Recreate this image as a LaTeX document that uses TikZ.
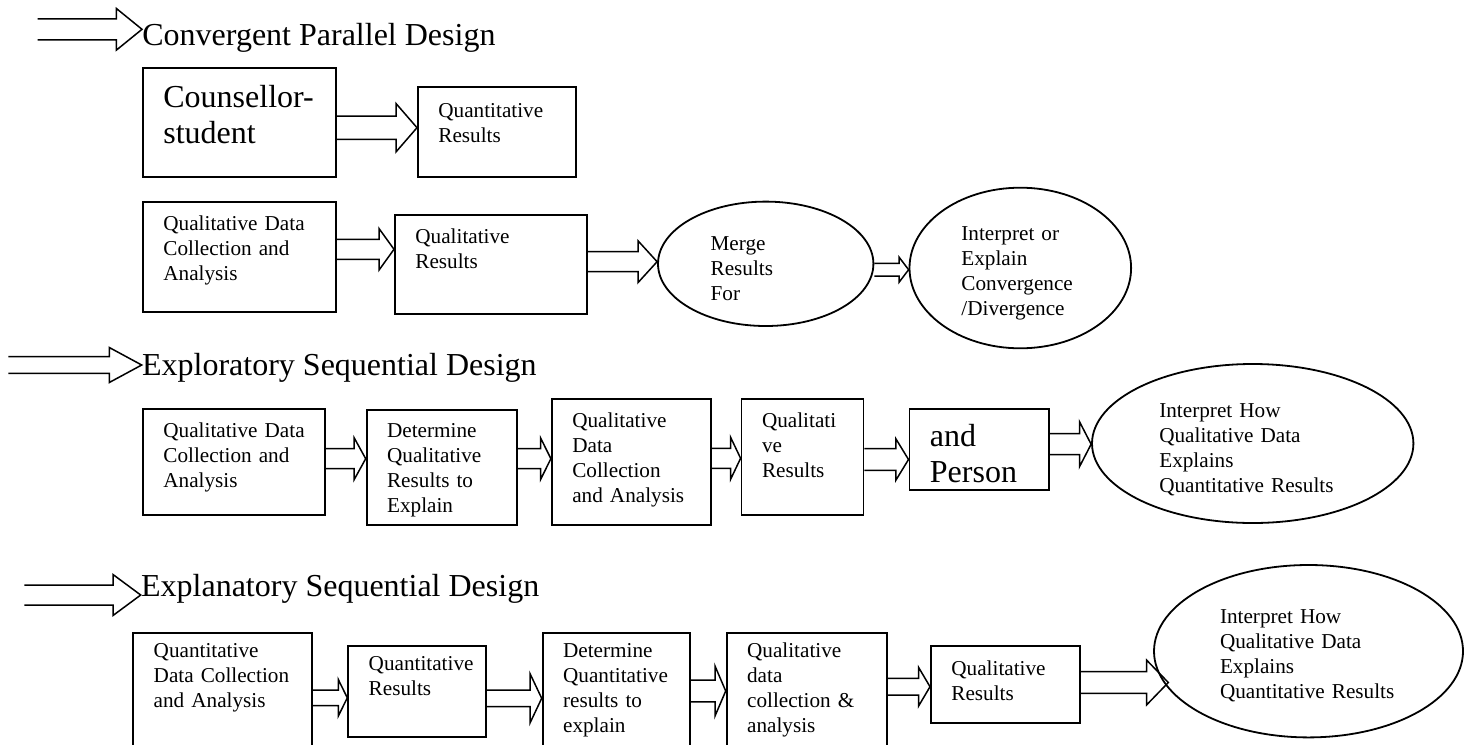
\documentclass[tikz,border=0pt]{standalone}
\usepackage{fontspec}
\setmainfont{Liberation Serif}
\usetikzlibrary{calc,shapes.geometric}

\newcommand{\hollowarrow}[6]{%
  \draw[harrow] (#1 |- 0,{#3-#4})
    -- ($(#2 |- 0,#3)+(-#6,-#4)$) -- ($(#2 |- 0,#3)+(-#6,-#5)$)
    -- (#2 |- 0,#3)
    -- ($(#2 |- 0,#3)+(-#6,#5)$) -- ($(#2 |- 0,#3)+(-#6,#4)$)
    -- (#1 |- 0,{#3+#4});}

\begin{document}
\begin{tikzpicture}[x=0.5pt, y=-0.5pt,
    smalltext/.style={font={\fontsize{10.6pt}{12.5pt}\selectfont}},
    bigtext/.style={font={\fontsize{16pt}{18pt}\selectfont}},
    box/.style={draw, line width=0.9pt, anchor=north west, inner xsep=10.25pt, inner ysep=0pt, align=left, smalltext},
    oval/.style={draw, ellipse, line width=0.9pt, inner sep=0pt, align=left, text height=7pt, smalltext},
    heading/.style={anchor=base west, inner sep=0pt, bigtext},
    harrow/.style={line width=0.75pt, line join=miter}]
    \useasboundingbox (0,0) rectangle (1470,744);
    \clip (0,0) rectangle (1470,744);

    \node[heading] (t1) at (142,45) {Convergent Parallel Design};
    \coordinate (t1s) at (37.5,29.3);

    \node[box, bigtext, text width=76pt, text height=19.85pt, text depth=34.5pt] (cp1) at (142,67.3) {Counsellor-\\student};
    \node[box, text width=58.5pt, text height=15.5pt, text depth=29.65pt] (cp2) at (417,85.7) {Quantitative\\Results};
    \node[box, text width=76pt, text height=14.65pt, text depth=40.5pt] (cp3) at (142,200.7) {Qualitative Data\\Collection and\\Analysis};
    \node[box, text width=75.5pt, text height=14.35pt, text depth=34.85pt] (cp4) at (394,214.3) {Qualitative\\Results};
    \node[oval, minimum width=107.7pt, minimum height=62.2pt, text width=55.1pt, text depth=20.8pt] (cp5) at (765.7,263.8) {Merge\\Results\\For};
    \node[oval, minimum width=110.8pt, minimum height=80.3pt, text width=58.9pt, text depth=34.3pt] (cp6) at (1020.3,268) {Interpret or\\Explain\\Convergence\\/Divergence};

    \hollowarrow{t1s}{t1.west}{29.3}{10.5}{20.8}{25.6}
    \hollowarrow{cp1.east}{cp2.west}{127.7}{11.7}{24.2}{21}
    \hollowarrow{cp3.east}{cp4.west}{249.3}{10}{20.8}{15}
    \hollowarrow{cp4.east}{cp5.west}{261.7}{10}{20.8}{19}
    \hollowarrow{cp5.east}{cp6.west}{269.7}{6.3}{12.5}{9.5}

    \node[heading] (t2) at (141.7,375) {Exploratory Sequential Design};
    \coordinate (t2s) at (8.3,365);

    \node[box, text width=70.7pt, text height=14.5pt, text depth=38.35pt] (ex1) at (142,408) {Qualitative Data\\Collection and\\Analysis};
    \node[box, text width=54.5pt, text height=14.15pt, text depth=43.35pt] (ex2) at (365.7,408.7) {Determine\\Qualitative\\Results to\\Explain};
    \node[box, text width=59.2pt, text height=14.5pt, text depth=48.35pt] (ex3) at (550.9,398) {Qualitative\\Data\\Collection\\and Analysis};
    \node[box, text width=40.5pt, text height=14.5pt, text depth=43.35pt] (ex4) at (740.6,398) {Qualitati\\ve\\Results};
    \node[box, bigtext, text width=49.1pt, text height=19pt, text depth=21.65pt] (ex5) at (908.5,408) {and\\Person};
    \node[oval, minimum width=160.7pt, minimum height=79.5pt, text width=93.4pt, text depth=33.5pt] (ex6) at (1252.7,443.5) {Interpret How\\Qualitative Data\\Explains\\Quantitative Results};

    \hollowarrow{t2s}{t2.west}{365}{8.3}{17.5}{32.4}
    \hollowarrow{ex1.east}{ex2.west}{458.7}{10}{21}{11.6}
    \hollowarrow{ex2.east}{ex3.west}{458.7}{10}{20.7}{10.3}
    \hollowarrow{ex3.east}{ex4.west}{458.3}{10}{21}{10}
    \hollowarrow{ex4.east}{ex5.west}{459.5}{10.8}{20.8}{12.7}
    \hollowarrow{ex5.east}{ex6.west}{444.2}{10.5}{22.5}{11.6}

    \node[heading] (t3) at (140.7,596.7) {Explanatory Sequential Design};
    \coordinate (t3s) at (24.4,595);

    \node[box, text width=68.7pt, text height=12.65pt, text depth=51.5pt] (eq1) at (132.3,631.7) {Quantitative\\Data Collection\\and Analysis};
    \node[box, text width=48.35pt, text height=12.5pt, text depth=33pt] (eq2) at (347.3,645) {Quantitative\\Results};
    \node[box, text width=53.25pt, text height=12.65pt, text depth=51.5pt] (eq3) at (541.7,631.7) {Determine\\Quantitative\\results to\\explain};
    \node[box, text width=59.85pt, text height=12.5pt, text depth=51.5pt] (eq4) at (725.7,632) {Qualitative\\data\\collection \&\\analysis};
    \node[box, text width=54.15pt, text height=15pt, text depth=23.35pt] (eq5) at (930,645) {Qualitative\\Results};
    \node[oval, minimum width=154.5pt, minimum height=86.2pt, text width=88.5pt, text depth=34.9pt] (eq6) at (1308.5,651.2) {Interpret How\\Qualitative Data\\Explains\\Quantitative Results};
    \coordinate (eq6in) at (1168.3,682.5);

    \hollowarrow{t3s}{t3.west}{595}{10}{20.5}{27.7}
    \hollowarrow{eq1.east}{eq2.west}{697.8}{7.8}{18.3}{9}
    \hollowarrow{eq2.east}{eq3.west}{698.3}{8.3}{24.7}{11.7}
    \hollowarrow{eq3.east}{eq4.west}{691}{10.8}{25}{10.7}
    \hollowarrow{eq4.east}{eq5.west}{686.7}{8.3}{19.3}{11.4}
    \hollowarrow{eq5.east}{eq6in}{682.5}{10.8}{22.3}{21.6}
\end{tikzpicture}
\end{document}
